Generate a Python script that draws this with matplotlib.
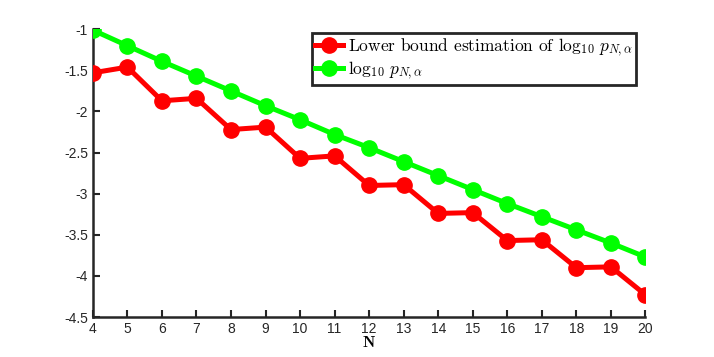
import matplotlib
matplotlib.use("Agg")
import matplotlib.pyplot as plt

# Values.
N = list(range(4, 21))
lower_bound = [-1.53, -1.46, -1.87, -1.84, -2.22, -2.19, -2.57, -2.54, -2.90,
               -2.89, -3.24, -3.23, -3.57, -3.56, -3.90, -3.89, -4.23]
log_p = [-1.01, -1.20, -1.39, -1.57, -1.75, -1.93, -2.10, -2.28, -2.44,
         -2.61, -2.78, -2.95, -3.12, -3.28, -3.44, -3.60, -3.77]

plt.rcParams['mathtext.fontset'] = 'cm'
plt.rcParams['font.family'] = ['Liberation Sans', 'DejaVu Sans']

fig = plt.figure(figsize=(7.14, 3.57), dpi=100)
ax = fig.add_axes([0.130, 0.112, 0.774, 0.806])

ax.plot(N, lower_bound, color='#ff0000', lw=3.6, marker='o', markersize=11,
        label=r'Lower bound estimation of $\log_{10}\, p_{N,\alpha}$')
ax.plot(N, log_p, color='#00ff00', lw=3.6, marker='o', markersize=11,
        label=r'$\log_{10}\, p_{N,\alpha}$')

ax.set_xlim(4, 20)
ax.set_ylim(-4.5, -1)
ax.set_xticks(N)
ax.set_yticks([-4.5, -4, -3.5, -3, -2.5, -2, -1.5, -1])
ax.set_yticklabels(['-4.5', '-4', '-3.5', '-3', '-2.5', '-2', '-1.5', '-1'])
ax.tick_params(direction='in', length=5, width=1.5, labelsize=10, colors='#262626')
for side in ['top', 'right']:
    ax.spines[side].set_visible(False)
for side in ['left', 'bottom']:
    ax.spines[side].set_linewidth(1.8)
    ax.spines[side].set_color('#262626')
    ax.spines[side].set_zorder(1)

ax.set_xlabel('N', fontfamily='cmb10', fontsize=11.5, labelpad=0)

leg = ax.legend(loc='upper left', bbox_to_anchor=(0.4366, 0.9084),
                bbox_transform=fig.transFigure, fancybox=False, framealpha=1,
                edgecolor='#262626', prop={'family': 'cmr10', 'size': 12.5},
                handlelength=1.6, handletextpad=0.3, borderpad=0.2,
                labelspacing=0.05, borderaxespad=0)
leg.get_frame().set_linewidth(2)

fig.savefig('out.png', dpi=100)
